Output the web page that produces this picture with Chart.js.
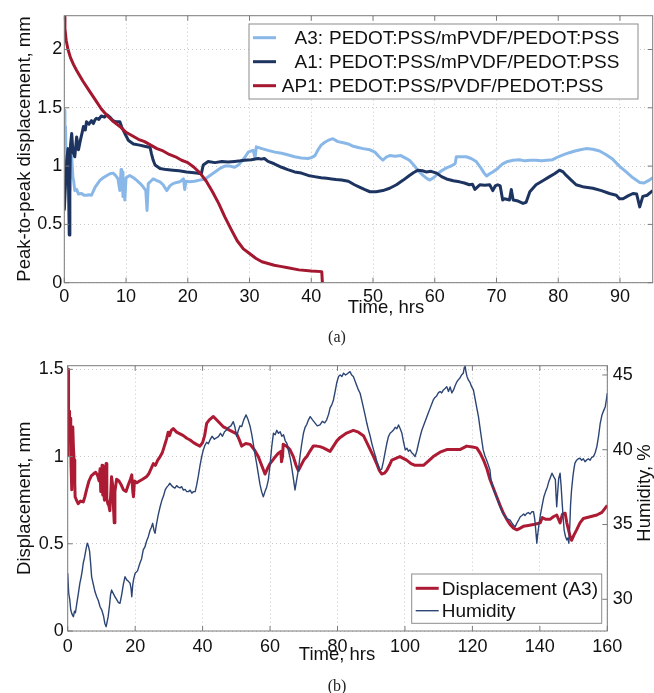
<!DOCTYPE html>
<html>
<head>
<meta charset="utf-8">
<script src="https://cdn.jsdelivr.net/npm/chart.js@4.4.1/dist/chart.umd.min.js"></script>
<style>
  body { margin: 0; background: #fff; width: 654px; height: 693px; position: relative; overflow: hidden; }
  canvas { position: absolute; left: 0; }
  #graficoA { top: 0; }
  #graficoB { top: 343px; }
  .pie { position: absolute; left: 287px; width: 100px; text-align: center;
         font: 16px "Liberation Serif", "DejaVu Serif", serif; line-height: 16px; color: #222; }
</style>
</head>
<body>
<canvas id="graficoA" width="654" height="322"></canvas>
<canvas id="graficoB" width="654" height="350"></canvas>
<div class="pie" style="top:329px">(a)</div>
<div class="pie" style="top:678px">(b)</div>
<script>
// marcas de los ejes
var ticksXa = [0, 10, 20, 30, 40, 50, 60, 70, 80, 90];
var ticksYa = [0, 0.5, 1, 1.5, 2];
var ticksXb = [0, 20, 40, 60, 80, 100, 120, 140, 160];
var ticksYb = [0, 0.5, 1, 1.5];
var ticksHum = [30, 35, 40, 45];

// (a) desplazamiento pico a pico, [horas, mm]
var serieA3 = [[0,1.48],[0.1,1.2],[0.2,1.34],[0.3,1.0],[0.4,0.85],[0.5,1.1],[0.7,0.95],[0.9,0.79],[1.0,1.05],[1.2,1.08],
  [1.4,0.9],[1.5,0.88],[1.7,0.79],[2.0,0.8],[2.3,0.76],[2.8,0.765],[3.2,0.75],[3.6,0.75],[4.0,0.755],[4.4,0.75],
  [5.0,0.82],[5.4,0.85],[5.8,0.88],[6.3,0.9],[6.9,0.92],[7.4,0.935],[7.9,0.94],[8.3,0.92],[8.7,0.89],[8.9,0.82],
  [9.0,0.79],[9.2,0.97],[9.3,0.8],[9.4,0.95],[9.5,0.74],[9.7,0.88],[9.8,0.71],[10.0,0.9],[10.6,0.92],[11.2,0.9],
  [11.7,0.88],[12.3,0.85],[12.8,0.82],[13.2,0.79],[13.4,0.62],[13.6,0.85],[14.0,0.87],[14.4,0.89],[15.0,0.875],[15.5,0.865],
  [16.0,0.84],[16.6,0.79],[17.1,0.83],[17.6,0.85],[18.2,0.86],[18.7,0.865],[19.3,0.89],[19.5,0.8],[19.7,0.87],[20.3,0.865],
  [21.1,0.87],[21.9,0.88],[22.8,0.89],[23.6,0.92],[24.4,0.95],[25.2,0.98],[26.0,1.0],[26.8,1.0],[27.6,0.99],[28.2,1.01],
  [28.7,1.04],[29.3,1.08],[29.8,1.12],[30.3,1.13],[30.6,1.135],[30.9,1.07],[31.1,1.165],[32.0,1.15],[33.0,1.135],[34.1,1.12],
  [35.2,1.11],[36.3,1.095],[37.3,1.08],[38.4,1.07],[39.5,1.065],[40.1,1.075],[40.6,1.09],[41.1,1.14],[41.6,1.18],[42.2,1.205],
  [42.7,1.22],[43.5,1.235],[44.3,1.21],[45.2,1.2],[46.0,1.19],[46.8,1.17],[47.6,1.16],[48.4,1.15],[49.5,1.14],[50.3,1.12],
  [51.0,1.08],[51.6,1.05],[52.2,1.08],[52.7,1.09],[53.6,1.085],[54.5,1.09],[55.2,1.07],[55.9,1.05],[56.6,1.01],[57.3,0.96],
  [58.1,0.92],[58.7,0.895],[59.2,0.88],[59.8,0.9],[60.4,0.93],[61.1,0.96],[61.9,0.985],[62.6,1.0],[63.3,1.02],[63.5,1.08],
  [64.3,1.08],[65.1,1.08],[65.9,1.065],[66.7,1.04],[67.4,0.99],[68.0,0.94],[68.4,0.915],[68.9,0.935],[69.4,0.95],[70.2,0.98],
  [71.0,1.02],[71.8,1.04],[72.7,1.05],[73.7,1.055],[74.6,1.045],[75.5,1.05],[76.4,1.05],[77.3,1.045],[78.2,1.05],[79.1,1.055],
  [80.0,1.08],[81.0,1.1],[81.8,1.115],[82.7,1.13],[83.6,1.14],[84.5,1.15],[85.6,1.145],[86.7,1.13],[87.7,1.1],[88.8,1.06],
  [89.9,1.0],[91.0,0.95],[92.1,0.9],[93.2,0.86],[93.9,0.855],[94.6,0.875],[95.3,0.9]];

var serieA1 = [[0,0.62],[0.2,0.85],[0.4,1.05],[0.6,1.15],[0.8,0.41],[0.9,0.9],[1.0,1.18],[1.2,1.28],[1.4,1.12],[1.7,1.08],
  [2.0,1.25],[2.3,1.14],[2.6,1.22],[2.9,1.29],[3.1,1.34],[3.4,1.31],[3.6,1.38],[4.0,1.36],[4.4,1.39],[4.7,1.365],
  [5.0,1.4],[5.2,1.41],[5.6,1.4],[6.0,1.43],[6.5,1.42],[6.9,1.44],[7.4,1.42],[7.9,1.39],[8.4,1.38],[9.0,1.38],
  [9.3,1.335],[9.8,1.28],[10.4,1.22],[11.2,1.19],[12.2,1.18],[13.0,1.17],[13.9,1.16],[14.1,1.11],[14.4,1.05],[14.7,1.01],
  [15.5,0.98],[16.5,0.97],[17.6,0.965],[18.6,0.96],[19.8,0.95],[20.6,0.945],[21.4,0.94],[22.2,0.935],[22.5,1.01],[23.3,1.04],
  [24.4,1.03],[25.5,1.04],[26.5,1.035],[27.6,1.04],[28.5,1.045],[29.2,1.05],[30.3,1.055],[31.4,1.065],[31.9,1.06],[32.4,1.065],
  [33.0,1.04],[34.0,1.02],[35.2,0.99],[36.2,0.97],[37.3,0.95],[38.4,0.94],[39.5,0.92],[40.5,0.91],[41.6,0.9],[42.5,0.895],
  [43.3,0.89],[44.0,0.885],[44.9,0.88],[46.0,0.87],[47.0,0.84],[47.8,0.82],[48.6,0.8],[49.5,0.78],[50.5,0.78],[51.6,0.79],
  [52.7,0.81],[53.8,0.84],[54.9,0.88],[55.9,0.92],[56.6,0.945],[57.3,0.965],[58.0,0.96],[58.6,0.95],[59.4,0.955],[60.3,0.94],
  [61.1,0.91],[61.9,0.89],[63.0,0.875],[64.0,0.865],[64.8,0.855],[65.6,0.84],[66.1,0.845],[66.5,0.8],[66.9,0.82],[67.3,0.84],
  [68.1,0.835],[68.9,0.84],[69.4,0.79],[69.8,0.83],[70.2,0.84],[70.6,0.83],[71.0,0.71],[71.3,0.72],[72.1,0.71],[72.4,0.8],
  [72.7,0.71],[73.5,0.7],[74.3,0.68],[74.8,0.69],[75.4,0.78],[76.4,0.84],[77.5,0.875],[78.6,0.91],[79.4,0.935],[80.2,0.965],
  [80.8,0.95],[81.3,0.92],[82.1,0.88],[82.9,0.84],[84.2,0.82],[85.6,0.81],[87.0,0.79],[88.3,0.765],[89.4,0.75],[89.9,0.72],
  [90.5,0.72],[91.3,0.745],[92.1,0.765],[92.7,0.76],[93.2,0.65],[93.7,0.74],[94.4,0.75],[95.3,0.79]];

var serieAP1 = [[0,2.28],[0.1,2.18],[0.3,2.08],[0.6,2.0],[1,1.93],[1.5,1.87],[2,1.82],[3,1.73],[4,1.65],[5,1.57],
  [6,1.49],[7,1.43],[8,1.38],[9,1.34],[10,1.29],[11,1.26],[12,1.23],[13,1.21],[14,1.18],[15,1.15],
  [16,1.13],[17,1.1],[18,1.08],[19,1.05],[20,1.03],[21,0.99],[22,0.94],[23,0.87],[24,0.78],[25,0.68],
  [26,0.565],[27,0.46],[28,0.36],[29,0.29],[30,0.25],[31,0.21],[32,0.18],[33,0.165],[34,0.15],[35,0.14],
  [36,0.13],[38,0.11],[40,0.1],[41.7,0.095],[41.8,0]];

// (b) desplazamiento A3 [horas, mm] y humedad [horas, %]
var desplazA3 = [[0,1.0],[0.1,1.4],[0.2,1.5],[0.3,1.2],[0.4,1.23],[0.5,1.26],[0.6,1.15],[0.7,1.22],[0.9,1.11],[1.0,0.95],
  [1.2,0.81],[1.3,1.0],[1.5,1.17],[1.7,1.05],[1.9,0.98],[2.1,0.85],[2.2,0.77],[2.6,0.75],[3.1,0.73],[3.8,0.745],
  [4.6,0.74],[5.1,0.77],[5.6,0.81],[6.3,0.86],[7.0,0.89],[7.6,0.9],[8.3,0.91],[8.9,0.89],[9.3,0.86],[9.6,0.93],
  [9.8,0.8],[10.2,0.95],[10.4,0.78],[10.6,0.81],[10.9,0.75],[11.1,0.92],[11.4,0.96],[11.6,0.76],[11.9,0.73],[12.2,0.72],
  [12.5,0.69],[12.8,0.8],[13.0,0.885],[13.3,0.84],[13.6,0.7],[13.8,0.62],[14.0,0.8],[14.5,0.87],[15.2,0.86],[15.8,0.84],
  [16.5,0.81],[17.3,0.8],[18.0,0.84],[18.6,0.87],[19.0,0.895],[19.3,0.8],[19.5,0.77],[19.8,0.86],[20.5,0.85],[21.3,0.86],
  [22.2,0.87],[23.0,0.88],[23.4,0.885],[24.0,0.9],[24.7,0.93],[25.4,0.96],[26.0,0.95],[26.7,0.98],[27.4,1.0],[28.0,1.02],
  [28.5,1.05],[28.9,1.075],[29.3,1.1],[29.8,1.14],[30.2,1.12],[30.7,1.15],[31.3,1.16],[32.3,1.14],[33.3,1.13],[34.3,1.12],
  [35.3,1.105],[36.3,1.095],[37.3,1.08],[38.2,1.07],[39.2,1.06],[40.0,1.08],[40.6,1.12],[41.2,1.19],[42.0,1.21],[43.2,1.23],
  [44.2,1.21],[45.2,1.19],[46.2,1.17],[47.2,1.16],[48.1,1.15],[49.1,1.14],[50.1,1.13],[50.8,1.1],[51.6,1.06],[52.8,1.075],
  [54.1,1.07],[55.3,1.04],[56.5,1.0],[57.5,0.95],[58.5,0.9],[59.2,0.93],[60.0,0.96],[61.2,0.99],[62.5,1.02],[63.2,1.03],
  [63.4,0.97],[63.7,1.0],[63.9,1.07],[64.9,1.06],[65.9,1.04],[66.9,1.0],[67.7,0.95],[68.4,0.92],[69.2,0.95],[70.0,0.98],
  [70.9,1.0],[71.8,1.03],[72.8,1.06],[73.8,1.06],[74.8,1.057],[75.8,1.05],[76.8,1.04],[77.8,1.03],[78.8,1.06],[79.8,1.09],
  [80.8,1.11],[82.7,1.135],[84.7,1.15],[86.2,1.14],[87.7,1.12],[88.7,1.08],[89.7,1.04],[90.7,1.0],[91.6,0.96],[92.4,0.92],
  [93.1,0.9],[93.9,0.905],[94.6,0.92],[95.4,0.95],[96.1,0.98],[97.3,0.99],[98.5,1.0],[99.5,0.99],[100.5,0.98],[101.8,0.96],
  [103.0,0.95],[104.3,0.95],[105.5,0.95],[107.0,0.975],[108.4,1.0],[110.4,1.025],[112.4,1.04],[114.4,1.04],[116.3,1.04],[118.3,1.06],
  [120.0,1.055],[121.3,1.05],[122.3,1.02],[123.3,0.98],[124.3,0.93],[125.2,0.87],[126.2,0.82],[127.2,0.77],[128.2,0.72],[129.2,0.675],
  [130.2,0.64],[131.2,0.61],[132.2,0.59],[133.2,0.58],[134.2,0.59],[135.1,0.6],[136.6,0.605],[138.1,0.61],[139.1,0.615],[140.1,0.62],
  [140.7,0.65],[141.8,0.64],[143.0,0.64],[144.0,0.655],[145.0,0.665],[146.0,0.62],[146.7,0.67],[147.5,0.675],[148.0,0.62],[148.5,0.58],
  [149.0,0.54],[149.4,0.52],[150.1,0.55],[150.9,0.58],[151.9,0.62],[152.9,0.645],[154.9,0.655],[156.9,0.665],[158.4,0.68],[159.2,0.7],
  [160,0.72]];

var humedad = [[0,31.74],[0.3,30.4],[0.6,30.0],[0.9,29.3],[1.2,29.06],[1.5,28.9],[1.7,28.84],[2.0,29.2],[2.3,29.1],[2.7,29.73],
  [3.1,30.3],[3.6,31.07],[4.0,31.5],[4.3,31.9],[4.6,32.41],[5.0,32.8],[5.4,33.3],[5.8,33.75],[6.1,33.6],[6.5,33.2],
  [6.8,32.4],[7.1,31.5],[7.6,31.0],[8.1,30.5],[8.6,30.17],[9.1,29.9],[9.6,29.5],[10.1,29.28],[10.6,28.9],[11.0,28.4],
  [11.4,28.17],[11.7,28.5],[12.0,28.84],[12.4,29.6],[12.7,30.3],[13.0,30.62],[13.5,30.4],[14.0,30.17],[14.5,30.0],[15.0,29.8],
  [15.5,29.73],[16.0,30.3],[16.5,31.0],[17.0,31.51],[17.5,31.3],[18.0,31.2],[18.5,31.07],[18.8,30.7],[19.0,30.17],[19.3,31.0],
  [19.6,31.4],[20.0,31.74],[20.7,31.9],[21.4,32.41],[21.9,32.7],[22.4,33.3],[22.9,33.5],[23.4,33.9],[23.9,34.19],[24.4,34.6],
  [24.8,34.8],[25.2,35.08],[25.6,34.6],[25.9,34.41],[26.3,35.0],[26.8,35.6],[27.4,36.19],[27.9,36.6],[28.4,36.9],[28.9,37.31],
  [29.4,37.5],[29.8,37.6],[30.3,37.76],[30.8,37.6],[31.3,37.5],[31.8,37.43],[32.3,37.6],[32.8,37.5],[33.3,37.45],[33.8,37.53],
  [34.3,37.3],[34.8,37.35],[35.3,37.2],[35.8,37.2],[36.3,37.3],[36.8,37.1],[37.3,37.2],[37.8,37.2],[38.2,37.6],[38.7,38.2],
  [39.2,38.9],[39.7,39.5],[40.2,39.99],[40.7,40.3],[41.2,40.5],[41.7,40.4],[42.2,40.66],[42.8,40.9],[43.5,40.7],[44.1,40.8],
  [44.7,40.88],[45.3,41.1],[45.9,40.9],[46.5,41.2],[47.1,41.32],[47.7,41.5],[48.4,41.6],[49.1,41.88],[49.6,41.5],[50.1,40.9],
  [50.6,41.3],[51.1,41.6],[51.6,41.55],[52.2,42.0],[52.9,42.33],[53.5,42.0],[54.1,41.55],[54.6,41.0],[55.1,40.3],[55.6,39.6],
  [56.0,39.1],[56.5,38.4],[57.0,37.7],[57.5,37.2],[58.0,36.86],[58.5,37.2],[59.0,37.5],[59.5,37.98],[60.0,39.0],[60.5,40.2],
  [61.0,41.1],[61.5,41.0],[62.0,41.3],[62.5,41.1],[63.0,41.2],[63.5,40.9],[64.0,41.0],[64.5,40.6],[65.0,40.43],[65.5,39.9],
  [66.0,39.4],[66.4,38.87],[66.9,38.1],[67.4,37.31],[67.9,38.0],[68.4,38.65],[68.9,39.6],[69.4,40.4],[69.9,41.1],[70.4,41.5],
  [70.9,41.7],[71.4,42.0],[71.9,42.21],[72.6,42.0],[73.3,41.8],[74.0,41.6],[74.8,41.66],[75.5,41.9],[76.2,41.8],[76.8,42.0],
  [77.4,42.4],[77.8,42.8],[78.3,43.0],[78.8,43.33],[79.3,43.9],[79.8,44.5],[80.3,44.89],[80.8,45.0],[81.3,44.9],[81.8,45.12],
  [82.4,45.0],[83.0,45.1],[83.7,45.22],[84.2,45.0],[84.7,44.89],[85.2,44.6],[85.7,44.3],[86.2,44.0],[86.7,43.78],[87.2,43.3],
  [87.7,42.8],[88.2,42.3],[88.7,41.77],[89.2,41.3],[89.7,40.9],[90.2,40.4],[90.7,39.99],[91.2,39.6],[91.7,39.2],[92.2,38.9],
  [92.6,38.65],[93.1,38.7],[93.6,39.2],[94.1,39.8],[94.6,40.4],[95.1,40.88],[95.6,41.1],[96.1,41.2],[96.6,41.32],[97.1,41.5],
  [97.6,41.4],[98.1,41.66],[98.6,41.4],[99.1,41.1],[99.6,40.5],[100.1,39.99],[100.6,40.1],[101.0,39.9],[101.5,39.99],[102.0,39.8],
  [102.5,39.7],[103.0,39.54],[103.5,39.9],[104.0,40.4],[104.5,40.88],[105.0,41.3],[105.5,41.6],[106.0,41.9],[106.5,42.21],[107.0,42.5],
  [107.5,42.8],[108.0,43.1],[108.4,43.33],[108.9,43.5],[109.4,43.6],[109.9,43.8],[110.4,43.89],[110.9,43.8],[111.4,44.0],[111.9,44.1],
  [112.4,44.22],[112.9,43.9],[113.4,44.2],[113.9,43.8],[114.4,44.0],[114.9,44.3],[115.3,44.5],[115.8,44.67],[116.3,44.8],[116.8,45.0],
  [117.3,45.12],[117.6,45.5],[117.8,45.67],[118.1,45.2],[118.4,44.9],[118.8,44.67],[119.3,44.5],[119.8,44.2],[120.3,44.0],[120.8,43.4],
  [121.3,42.8],[121.8,42.21],[122.3,41.4],[122.8,40.6],[123.2,39.99],[123.7,39.6],[124.2,39.32],[124.7,39.0],[125.2,38.65],[125.5,38.0],
  [125.8,37.76],[126.2,37.4],[126.7,37.09],[127.2,36.8],[127.7,36.5],[128.2,36.19],[128.7,35.9],[129.2,35.7],[129.7,35.52],[130.2,35.4],
  [130.7,35.35],[131.2,35.3],[131.7,35.1],[132.2,34.95],[132.7,34.86],[133.2,35.1],[133.7,35.3],[134.2,35.52],[134.7,35.6],[135.2,35.7],
  [135.6,35.6],[136.1,35.75],[136.6,35.8],[137.1,35.7],[137.6,35.85],[138.1,35.86],[138.4,35.5],[138.6,35.1],[138.9,34.3],[139.1,33.75],
  [139.4,34.4],[139.8,35.1],[140.2,35.7],[140.7,36.3],[141.2,36.86],[141.7,37.2],[142.2,37.5],[142.7,37.9],[143.2,38.2],[143.6,38.43],
  [144.1,38.2],[144.6,38.0],[144.8,37.0],[145.0,36.19],[145.3,37.2],[145.6,38.1],[146.0,38.43],[146.3,37.6],[146.6,36.5],[146.9,35.5],
  [147.2,34.63],[147.6,34.2],[148.0,33.97],[148.3,34.1],[148.6,33.75],[148.9,35.0],[149.1,36.3],[149.4,37.31],[149.8,38.2],[150.1,38.7],
  [150.4,39.1],[150.9,39.3],[151.4,39.4],[151.9,39.43],[152.4,39.3],[152.9,39.4],[153.4,39.2],[153.9,39.32],[154.4,39.4],[154.9,39.3],
  [155.4,39.5],[155.9,39.54],[156.4,39.8],[156.9,40.21],[157.4,40.9],[157.9,41.77],[158.4,42.3],[158.9,42.6],[159.4,42.88],[159.7,43.3],
  [160,43.78]];

Chart.defaults.font.family = '"Liberation Sans", Arial, sans-serif';
Chart.defaults.color = '#111';

function aPuntos(serie) {
  return serie.map(function (p) { return { x: p[0], y: p[1] }; });
}

function fijarTicks(lista) {
  return function (eje) { eje.ticks = lista.map(function (v) { return { value: v }; }); };
}

var COLOR_MARCO = '#7a7a7a';
var FUENTE = '"Liberation Sans", Arial, sans-serif';

// marco, marcas hacia dentro, titulos de ejes y leyenda (estilo matlab)
var marco = {
  id: 'marco',
  afterDatasetsDraw: function (chart, args, op) {
    var ctx = chart.ctx, a = chart.chartArea, s = chart.scales;
    ctx.save();
    ctx.strokeStyle = COLOR_MARCO;
    ctx.lineWidth = 1;
    ctx.strokeRect(a.left, a.top, a.right - a.left, a.bottom - a.top);

    ctx.beginPath();
    s.x.ticks.forEach(function (t) {
      var px = s.x.getPixelForValue(t.value);
      ctx.moveTo(px, a.bottom); ctx.lineTo(px, a.bottom - 5);
      ctx.moveTo(px, a.top); ctx.lineTo(px, a.top + 5);
    });
    s.y.ticks.forEach(function (t) {
      var py = s.y.getPixelForValue(t.value);
      ctx.moveTo(a.left, py); ctx.lineTo(a.left + 5, py);
    });
    var der = s[op.ejeDerecho];
    der.ticks.forEach(function (t) {
      var py = der.getPixelForValue(t.value);
      ctx.moveTo(a.right, py); ctx.lineTo(a.right - 5, py);
    });
    ctx.stroke();

    // titulos
    ctx.fillStyle = '#111';
    ctx.textAlign = 'center';
    ctx.textBaseline = 'middle';
    ctx.font = '18.5px ' + FUENTE;
    op.titulos.forEach(function (t) {
      ctx.save();
      ctx.translate(t.x, t.y);
      if (t.girar) ctx.rotate(-Math.PI / 2);
      ctx.fillText(t.texto, 0, 0);
      ctx.restore();
    });

    // leyenda
    var L = op.leyenda;
    ctx.fillStyle = '#fff';
    ctx.fillRect(L.x, L.y, L.w, L.h);
    ctx.strokeStyle = '#8c8c8c';
    ctx.strokeRect(L.x, L.y, L.w, L.h);
    ctx.font = '19px ' + FUENTE;
    ctx.fillStyle = '#111';
    chart.data.datasets.forEach(function (ds, i) {
      var yy = L.y + L.fila0 + i * L.paso;
      ctx.strokeStyle = ds.borderColor;
      ctx.lineWidth = ds.borderWidth;
      ctx.beginPath();
      ctx.moveTo(L.x + 4, yy); ctx.lineTo(L.x + 27, yy);
      ctx.stroke();
      if (L.partir) {
        var k = ds.label.indexOf(' ');
        ctx.textAlign = 'right';
        ctx.fillText(ds.label.slice(0, k), L.x + 74, yy + 1.5);
        ctx.textAlign = 'left';
        ctx.fillText(ds.label.slice(k + 1), L.x + 80, yy + 1.5);
      } else {
        ctx.textAlign = 'left';
        ctx.fillText(ds.label, L.x + 30, yy + 1);
      }
    });
    ctx.restore();
  }
};

var rejilla = { color: '#c9c9c9', lineWidth: 1, drawTicks: false };
var borde = { display: false, dash: [1, 3] };

// (a)
new Chart(document.getElementById('graficoA'), {
  type: 'line',
  data: {
    datasets: [
      { label: 'A3: PEDOT:PSS/mPVDF/PEDOT:PSS', data: aPuntos(serieA3), borderColor: '#89b8e8', borderWidth: 3, order: 3 },
      { label: 'A1: PEDOT:PSS/mPVDF/PEDOT:PSS', data: aPuntos(serieA1), borderColor: '#1d3461', borderWidth: 3, order: 2 },
      { label: 'AP1: PEDOT:PSS/PVDF/PEDOT:PSS', data: aPuntos(serieAP1), borderColor: '#a3172f', borderWidth: 3, order: 1 }
    ]
  },
  options: {
    responsive: false,
    animation: false,
    parsing: false,
    layout: { padding: { top: 15.7, right: 1.3, left: 0, bottom: 0 } },
    elements: { point: { radius: 0 }, line: { tension: 0, borderJoinStyle: 'round', fill: false } },
    scales: {
      x: {
        type: 'linear', min: 0, max: 95.3,
        afterBuildTicks: fijarTicks(ticksXa),
        afterFit: function (e) { e.height = 39.3; },
        ticks: { font: { size: 18 }, padding: 4, maxRotation: 0, callback: function (v) { return String(v); } },
        grid: rejilla, border: borde
      },
      y: {
        type: 'linear', min: 0, max: 2.29,
        afterBuildTicks: fijarTicks(ticksYa),
        afterFit: function (e) { e.width = 64.3; },
        ticks: { font: { size: 18 }, padding: 2, callback: function (v) { return String(v); } },
        grid: rejilla, border: borde
      }
    },
    plugins: {
      legend: { display: false },
      tooltip: { enabled: false },
      marco: {
        ejeDerecho: 'y',
        titulos: [
          { texto: 'Time, hrs', x: 386, y: 308 },
          { texto: 'Peak-to-peak displacement, mm', x: 25, y: 149, girar: true }
        ],
        leyenda: { x: 249, y: 24, w: 389, h: 75, fila0: 13.7, paso: 24, partir: true }
      }
    }
  },
  plugins: [marco]
});

// (b)
new Chart(document.getElementById('graficoB'), {
  type: 'line',
  data: {
    datasets: [
      { label: 'Displacement (A3)', data: aPuntos(desplazA3), borderColor: '#ad1a33', borderWidth: 3, yAxisID: 'y', order: 2 },
      { label: 'Humidity', data: aPuntos(humedad), borderColor: '#2c4574', borderWidth: 1.4, yAxisID: 'y2', order: 1 }
    ]
  },
  options: {
    responsive: false,
    animation: false,
    parsing: false,
    layout: { padding: { top: 22.7, right: 0, left: 0, bottom: 0 } },
    elements: { point: { radius: 0 }, line: { tension: 0, borderJoinStyle: 'round', fill: false } },
    scales: {
      x: {
        type: 'linear', min: 0, max: 160,
        afterBuildTicks: fijarTicks(ticksXb),
        afterFit: function (e) { e.height = 62; },
        ticks: { font: { size: 18 }, padding: 5, maxRotation: 0, callback: function (v) { return String(v); } },
        grid: rejilla, border: borde
      },
      y: {
        type: 'linear', position: 'left', min: 0, max: 1.521,
        afterBuildTicks: fijarTicks(ticksYb),
        afterFit: function (e) { e.width = 67.7; },
        ticks: { font: { size: 18 }, padding: 4, callback: function (v) { return String(v); } },
        grid: rejilla, border: borde
      },
      y2: {
        type: 'linear', position: 'right', min: 27.88, max: 45.62,
        afterBuildTicks: fijarTicks(ticksHum),
        afterFit: function (e) { e.width = 46.7; },
        ticks: { font: { size: 18 }, padding: 5.5, callback: function (v) { return String(v); } },
        grid: { display: false, drawTicks: false }, border: { display: false }
      }
    },
    plugins: {
      legend: { display: false },
      tooltip: { enabled: false },
      marco: {
        ejeDerecho: 'y2',
        titulos: [
          { texto: 'Time, hrs', x: 337, y: 312 },
          { texto: 'Displacement, mm', x: 24.5, y: 155.3, girar: true },
          { texto: 'Humidity, %', x: 645, y: 150, girar: true }
        ],
        leyenda: { x: 411.7, y: 231, w: 190, h: 49.3, fila0: 14.3, paso: 22.4, partir: false }
      }
    }
  },
  plugins: [marco]
});
</script>
</body>
</html>
